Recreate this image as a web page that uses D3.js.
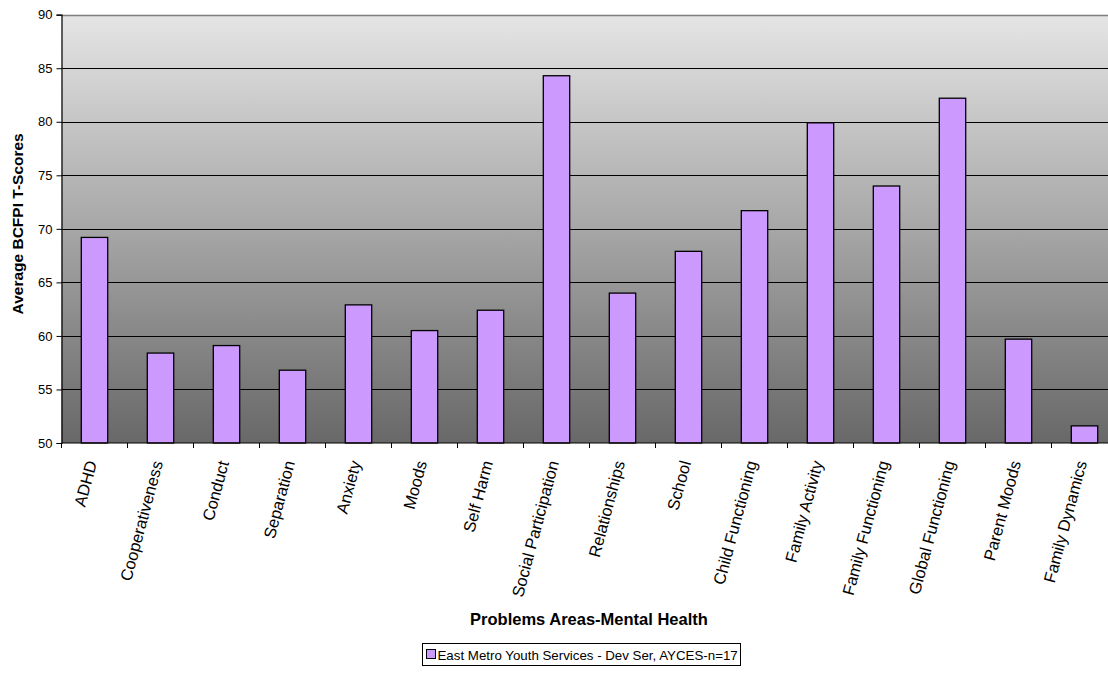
<!DOCTYPE html>
<html>
<head>
<meta charset="utf-8">
<script src="https://cdn.jsdelivr.net/npm/d3@7"></script>
<style>
  body { margin: 0; background: #fff; }
  svg { font-family: Arial, "Liberation Sans", sans-serif; }
</style>
</head>
<body>
<div id="chart-area"></div>
<script>
// Data
var categories = ["ADHD", "Cooperativeness", "Conduct", "Separation", "Anxiety", "Moods",
    "Self Harm", "Social Participation", "Relationships", "School", "Child Functioning",
    "Family Activity", "Family Functioning", "Global Functioning", "Parent Moods", "Family Dynamics"];
var scores = [69.2, 58.4, 59.1, 56.8, 62.9, 60.5, 62.4, 84.3, 64.0, 67.9, 71.7, 79.9, 74.0, 82.2, 59.7, 51.6];
var yTicks = [50, 55, 60, 65, 70, 75, 80, 85, 90];
var seriesName = "East Metro Youth Services - Dev Ser, AYCES-n=17";

var W = 1108, H = 693;
var plot = { left: 61.5, right: 1117.5, top: 14.7, bottom: 443 };

var svg = d3.select("#chart-area")
    .append("svg")
        .attr("width", W)
        .attr("height", H);

// gradient background for plot area
var defs = svg.append("defs");
var grad = defs.append("linearGradient")
    .attr("id", "bg")
    .attr("x1", 0).attr("y1", 0).attr("x2", 0).attr("y2", 1);
grad.append("stop").attr("offset", "0%").attr("stop-color", "#e5e5e5");
grad.append("stop").attr("offset", "100%").attr("stop-color", "#686868");

// Scales
var x = d3.scaleBand()
    .domain(categories)
    .range([plot.left, plot.right])
    .padding(0);
var y = d3.scaleLinear()
    .domain([50, 90])
    .range([plot.bottom, plot.top]);

svg.append("rect")
    .attr("x", plot.left)
    .attr("y", plot.top)
    .attr("width", plot.right - plot.left)
    .attr("height", plot.bottom - plot.top)
    .attr("fill", "url(#bg)");

// Gridlines
svg.append("g")
    .selectAll("line")
    .data(yTicks.filter(function(d){ return d > 50; }))
    .enter().append("line")
        .attr("x1", plot.left)
        .attr("x2", plot.right)
        .attr("y1", function(d){ return Math.round(y(d)) + 0.5; })
        .attr("y2", function(d){ return Math.round(y(d)) + 0.5; })
        .attr("stroke", function(d){ return d == 90 ? "#808080" : "#000"; })
        .attr("stroke-width", function(d){ return d == 90 ? 1.5 : 1; });

// Bars
var barW = x.bandwidth() * 0.4;
svg.append("g")
    .selectAll("rect")
    .data(scores)
    .enter().append("rect")
        .attr("x", function(d, i){ return x(categories[i]) + (x.bandwidth() - barW) / 2; })
        .attr("y", function(d){ return y(d); })
        .attr("width", barW)
        .attr("height", function(d){ return y(50) - y(d); })
        .attr("fill", "#cc99ff")
        .attr("stroke", "#000")
        .attr("stroke-width", 1.3);

// Y Axis
var yAxisCall = d3.axisLeft(y)
    .tickValues(yTicks)
    .tickSize(5)
    .tickPadding(4);
var yAxis = svg.append("g")
    .attr("transform", "translate(" + plot.left + ",0)")
    .call(yAxisCall);
yAxis.select(".domain").attr("stroke", "#000").attr("stroke-width", 1.2);
yAxis.selectAll("text")
    .attr("font-size", "13px")
    .attr("font-family", "Arial, 'Liberation Sans', sans-serif")
    .attr("fill", "#000");

// X Axis line + ticks at band edges
svg.append("line")
    .attr("x1", plot.left).attr("x2", plot.right)
    .attr("y1", plot.bottom).attr("y2", plot.bottom)
    .attr("stroke", "#000").attr("stroke-width", 1.2);
var edges = categories.map(function(c){ return x(c); }).concat([plot.right]);
svg.append("g")
    .selectAll("line")
    .data(edges)
    .enter().append("line")
        .attr("x1", function(d){ return d; })
        .attr("x2", function(d){ return d; })
        .attr("y1", plot.bottom)
        .attr("y2", plot.bottom + 5)
        .attr("stroke", "#000");

// Category labels
svg.append("g")
    .selectAll("text")
    .data(categories)
    .enter().append("text")
        .attr("transform", function(d){
            return "translate(" + (x(d) + x.bandwidth() / 2 - 3) + "," + (plot.bottom + 18) + ") rotate(-75)";
        })
        .attr("text-anchor", "end")
        .attr("dy", "0.35em")
        .attr("font-size", "16.5px")
        .attr("fill", "#000")
        .text(function(d){ return d; });

// Axis titles
svg.append("text")
    .attr("x", 589)
    .attr("y", 625)
    .attr("text-anchor", "middle")
    .attr("font-size", "16.5px")
    .attr("font-weight", "bold")
    .text("Problems Areas-Mental Health");
svg.append("text")
    .attr("transform", "translate(23," + ((plot.top + plot.bottom) / 2 - 5) + ") rotate(-90)")
    .attr("text-anchor", "middle")
    .attr("font-size", "15.5px")
    .attr("font-weight", "bold")
    .text("Average BCFPI T-Scores");

// Legend
var legend = svg.append("g")
    .attr("transform", "translate(422.5,643.5)");
legend.append("rect")
    .attr("width", 318)
    .attr("height", 22)
    .attr("fill", "#fff")
    .attr("stroke", "#000");
legend.append("rect")
    .attr("x", 4)
    .attr("y", 6)
    .attr("width", 9)
    .attr("height", 9)
    .attr("fill", "#cc99ff")
    .attr("stroke", "#000");
legend.append("text")
    .attr("x", 15)
    .attr("y", 16)
    .attr("font-size", "13.3px")
    .text(seriesName);
</script>
</body>
</html>
